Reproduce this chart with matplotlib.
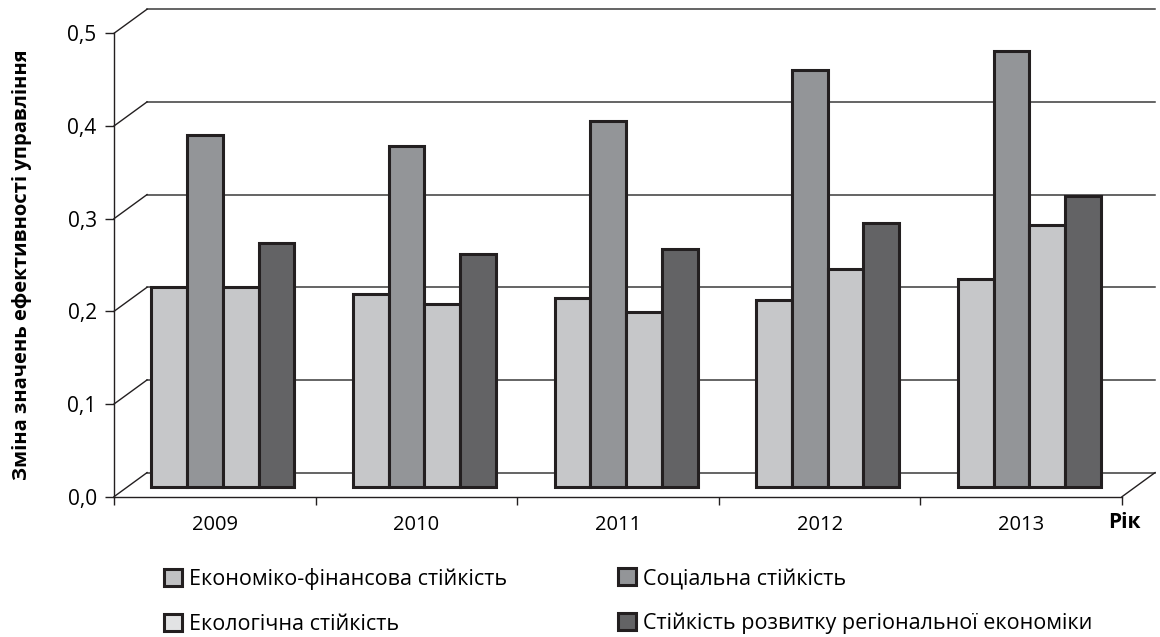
import matplotlib
matplotlib.use("Agg")
import matplotlib.pyplot as plt
from matplotlib.patches import Patch
import numpy as np

plt.rcParams['font.family'] = ['Open Sans', 'DejaVu Sans']

years = ["2009", "2010", "2011", "2012", "2013"]
series_names = ["Економіко-фінансова стійкість", "Соціальна стійкість",
                "Екологічна стійкість", "Стійкість розвитку регіональної економіки"]
eco_fin = [0.215, 0.208, 0.204, 0.201, 0.224]
social = [0.380, 0.368, 0.395, 0.450, 0.470]
ecolog = [0.215, 0.197, 0.188, 0.235, 0.282]
regional = [0.263, 0.251, 0.256, 0.285, 0.314]
yticks = [0.0, 0.1, 0.2, 0.3, 0.4, 0.5]
ytick_labels = ["0,0", "0,1", "0,2", "0,3", "0,4", "0,5"]

bar_colors = ["#c6c7c9", "#939598", "#c6c7c9", "#636365"]
legend_colors = ["#c0c1c3", "#939598", "#e2e3e4", "#636365"]
edge = "#231f20"

fig = plt.figure(figsize=(11.6, 6.37), dpi=100)
ax = fig.add_axes([114 / 1160, (637 - 496.7) / 637, 1008 / 1160, 463.4 / 637])
ax.set_xlim(0, 5)
ax.set_ylim(0, 0.5)

# pseudo 3d offsets (data units)
wall_dx, wall_dy = 0.164, 0.026
bar_dx, bar_dy = 0.04, 0.0108

# back wall grid + diagonals
for y in yticks:
    ax.plot([wall_dx, 5 + wall_dx], [y + wall_dy, y + wall_dy], color="#3a3a3a", lw=1.1,
            clip_on=False, zorder=1)
    ax.plot([0, wall_dx], [y, y + wall_dy], color="#231f20", lw=1.0, clip_on=False, zorder=1)
# floor right edge
ax.plot([5, 5 + wall_dx], [0, wall_dy], color="#231f20", lw=1.0, clip_on=False, zorder=1)

x = np.arange(len(years))
w = 0.1773
for k, vals in enumerate([eco_fin, social, ecolog, regional]):
    ax.bar(x + 0.5 + bar_dx + (k - 1.5) * w, vals, width=w, bottom=bar_dy,
           color=bar_colors[k], edgecolor=edge, linewidth=2.2, zorder=3, clip_on=False)

for s in ["top", "right"]:
    ax.spines[s].set_visible(False)
ax.spines["left"].set_color("#231f20")
ax.spines["bottom"].set_color("#231f20")
ax.spines["left"].set_linewidth(1.0)
ax.spines["bottom"].set_linewidth(1.0)

ax.set_yticks(yticks)
ax.set_yticklabels(ytick_labels, fontsize=15)
ax.set_xticks(np.arange(0, 6))
ax.set_xticklabels([])
ax.set_xticks(x + 0.5, minor=True)
ax.set_xticklabels(years, minor=True, fontsize=14.5)
ax.tick_params(axis="x", which="minor", length=0, pad=13)
ax.tick_params(axis="x", which="major", direction="out", length=6, width=1.0, color="#231f20")
ax.tick_params(axis="y", direction="out", length=6.5, width=1.0, color="#231f20", pad=6)

fig.text(0.019, (637 - 265) / 637, "Зміна значень ефективності управління", rotation=90,
         fontsize=14.5, fontweight="bold", ha="center", va="center")
fig.text(1108 / 1160, (637 - 523) / 637, "Рік", fontsize=15, fontweight="bold",
         ha="left", va="center")

h = [Patch(facecolor=legend_colors[k], edgecolor=edge, linewidth=2.2) for k in range(4)]
leg_kw = dict(loc="upper left", frameon=False, fontsize=15.5, handlelength=0.85,
              handleheight=0.85, handletextpad=0.3, labelspacing=1.1,
              borderpad=0, borderaxespad=0)
fig.legend([h[0], h[2]], [series_names[0], series_names[2]],
           bbox_to_anchor=(164 / 1160, 1 - 568 / 637), **leg_kw)
fig.legend([h[1], h[3]], [series_names[1], series_names[3]],
           bbox_to_anchor=(618 / 1160, 1 - 568 / 637), **leg_kw)

fig.savefig("out.png", dpi=100)
